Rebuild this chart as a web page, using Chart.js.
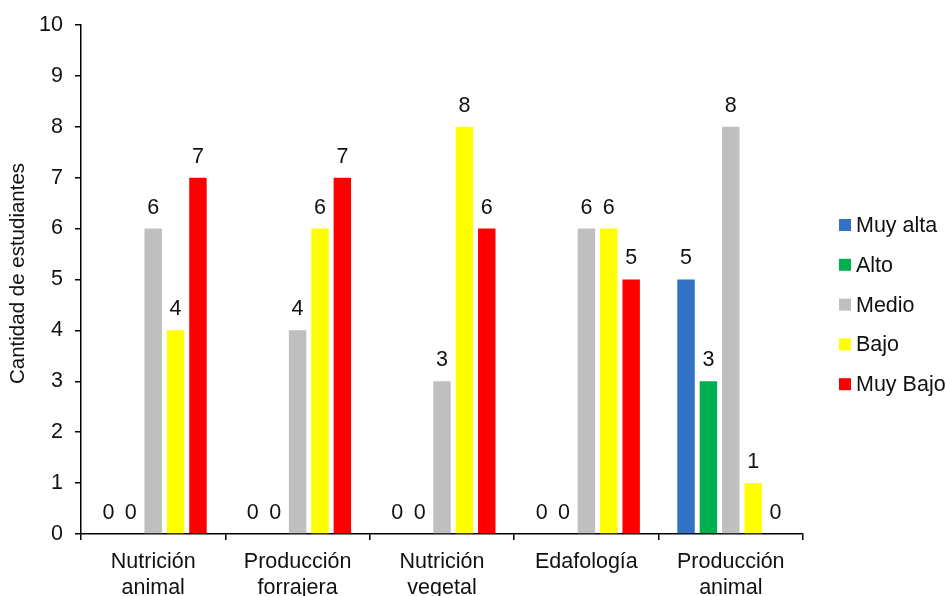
<!DOCTYPE html>
<html>
<head>
<meta charset="utf-8">
<script src="https://cdn.jsdelivr.net/npm/chart.js@4"></script>
<style>
  html, body { margin: 0; padding: 0; background: #fff; }
  #wrap { width: 946px; height: 596px; }
</style>
</head>
<body>
<div id="wrap"><canvas id="c" width="946" height="596"></canvas></div>
<script>
const categories = [
  ["Nutrición", "animal"],
  ["Producción", "forrajera"],
  ["Nutrición", "vegetal"],
  ["Edafología"],
  ["Producción", "animal"]
];
const seriesNames = ["Muy alta", "Alto", "Medio", "Bajo", "Muy Bajo"];
const muyAlta = [0, 0, 0, 0, 5];
const alto    = [0, 0, 0, 0, 3];
const medio   = [6, 4, 3, 6, 8];
const bajo    = [4, 6, 8, 6, 1];
const muyBajo = [7, 7, 6, 5, 0];
const yTicks  = [0, 1, 2, 3, 4, 5, 6, 7, 8, 9, 10];
const yTitle  = "Cantidad de estudiantes";

const colors = ["#3371C6", "#00B050", "#BFBFBF", "#FFFF00", "#FF0000"];
const seriesValues = [muyAlta, alto, medio, bajo, muyBajo];
const FONT = "'Liberation Sans', Arial, sans-serif";
const TEXT = "#111111";
const SIZE = 21.5;

// Value printed above each bar (zeros included)
const valueLabels = {
  id: "valueLabels",
  afterDatasetsDraw(chart) {
    const ctx = chart.ctx;
    ctx.save();
    ctx.font = SIZE + "px " + FONT;
    ctx.fillStyle = TEXT;
    ctx.textAlign = "center";
    ctx.textBaseline = "alphabetic";
    chart.data.datasets.forEach((ds, i) => {
      const meta = chart.getDatasetMeta(i);
      meta.data.forEach((bar, j) => {
        ctx.fillText(String(ds.data[j]), bar.x, bar.y - 15);
      });
    });
    ctx.restore();
  }
};

// Vertical axis title, rotated, left of the tick labels
const axisTitle = {
  id: "axisTitle",
  afterDraw(chart) {
    const ctx = chart.ctx;
    const area = chart.chartArea;
    ctx.save();
    ctx.font = "20.5px " + FONT;
    ctx.fillStyle = TEXT;
    ctx.textAlign = "center";
    ctx.textBaseline = "middle";
    ctx.translate(18, (area.top + area.bottom) / 2 - 6);
    ctx.rotate(-Math.PI / 2);
    ctx.fillText(yTitle, 0, 0);
    ctx.restore();
  }
};

// Legend on the right: square swatch + name, one per row
const sideLegend = {
  id: "sideLegend",
  afterDraw(chart) {
    const ctx = chart.ctx;
    const area = chart.chartArea;
    const x0 = area.right + 36;
    const y0 = 225;
    const step = 39.8;
    ctx.save();
    ctx.font = SIZE + "px " + FONT;
    ctx.textBaseline = "middle";
    ctx.textAlign = "left";
    chart.data.datasets.forEach((ds, i) => {
      const y = y0 + i * step;
      ctx.fillStyle = ds.backgroundColor;
      ctx.fillRect(x0, y - 6, 12, 12);
      ctx.fillStyle = TEXT;
      ctx.fillText(ds.label, x0 + 17, y + 1);
    });
    ctx.restore();
  }
};

const datasets = seriesNames.map((name, i) => ({
  label: name,
  data: seriesValues[i],
  backgroundColor: colors[i],
  borderWidth: 0,
  categoryPercentage: 0.775,
  barPercentage: 0.78
}));

new Chart(document.getElementById("c"), {
  type: "bar",
  data: { labels: categories, datasets },
  options: {
    responsive: false,
    animation: false,
    devicePixelRatio: 1,
    layout: { padding: { left: 0, right: 143, top: 24, bottom: 0 } },
    plugins: {
      legend: { display: false },
      tooltip: { enabled: false }
    },
    scales: {
      x: {
        offset: true,
        grid: {
          offset: true,
          drawOnChartArea: false,
          drawTicks: true,
          tickLength: 6,
          color: "#000",
          lineWidth: 1.5
        },
        border: { display: true, color: "#000", width: 1.5 },
        ticks: {
          color: TEXT,
          font: { family: FONT, size: SIZE, lineHeight: 1.2 },
          padding: 9,
          maxRotation: 0,
          autoSkip: false
        },
        afterFit(scale) { scale.height = 62; }
      },
      y: {
        min: 0,
        max: 10,
        afterBuildTicks(scale) { scale.ticks = yTicks.map(v => ({ value: v })); },
        grid: {
          drawOnChartArea: false,
          drawTicks: true,
          tickLength: 6,
          color: "#000",
          lineWidth: 1.5
        },
        border: { display: true, color: "#000", width: 1.5 },
        ticks: {
          color: TEXT,
          font: { family: FONT, size: SIZE },
          padding: 12
        },
        afterFit(scale) { scale.width = 81; }
      }
    }
  },
  plugins: [valueLabels, axisTitle, sideLegend]
});
</script>
</body>
</html>
